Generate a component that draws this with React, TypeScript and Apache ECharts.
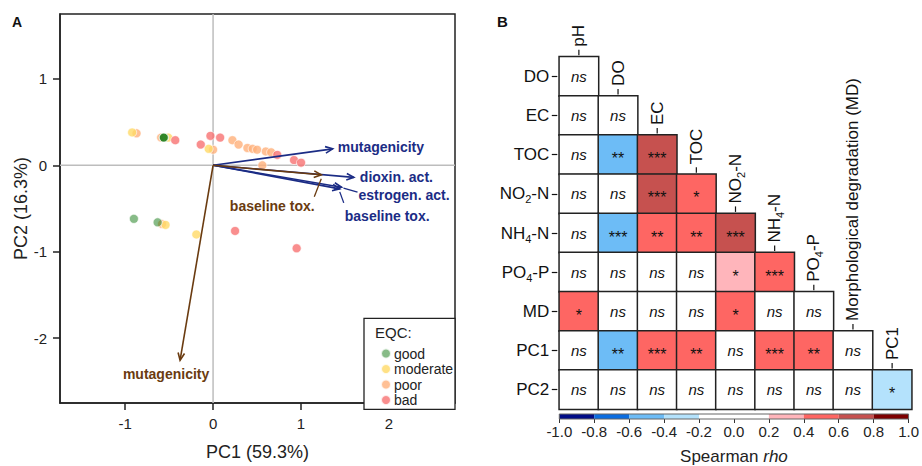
import React, { useEffect, useRef } from 'react';
import * as echarts from 'echarts';

const FONT = '"Liberation Sans", Arial, Helvetica, sans-serif';

// ---------- Panel A: PCA biplot ----------
const pc1Ticks = [-1, 0, 1, 2];
const pc2Ticks = [-2, -1, 0, 1];
const eqcClasses = ['good', 'moderate', 'poor', 'bad'];
const goodPts = [[-0.56, 0.32], [-0.56, 0.32], [-0.56, 0.32], [-0.9, -0.62], [-0.63, -0.66]];
const moderatePts = [[-0.92, 0.38], [-0.51, 0.32], [-0.05, 0.19], [-0.54, -0.69], [-0.19, -0.8]];
const poorPts = [
  [-0.87, 0.37], [-0.59, 0.32], [0.0, 0.18], [0.22, 0.29], [0.29, 0.24], [0.39, 0.2],
  [0.45, 0.19], [0.5, 0.18], [0.6, 0.16], [0.66, 0.15], [0.56, 0.0], [-0.58, -0.68],
];
const badPts = [
  [-0.43, 0.29], [-0.14, 0.24], [-0.03, 0.34], [0.08, 0.32], [0.73, 0.12], [0.92, 0.06],
  [1.0, 0.03], [0.25, -0.76], [0.95, -0.96],
];
const blueNames = ['mutagenicity', 'dioxin. act.', 'estrogen. act.', 'baseline tox.'];
const blueLoadings = [[1.36, 0.19], [1.6, -0.14], [1.46, -0.254], [1.44, -0.273]];
const brownNames = ['baseline tox.', 'mutagenicity'];
const brownLoadings = [[1.23, -0.11], [-0.375, -2.255]];

// ---------- Panel B: Spearman correlation heatmap ----------
const rowNames = ['DO', 'EC', 'TOC', 'NO_2-N', 'NH_4-N', 'PO_4-P', 'MD', 'PC1', 'PC2'];
const colNames = ['pH', 'DO', 'EC', 'TOC', 'NO_2-N', 'NH_4-N', 'PO_4-P', 'Morphological degradation (MD)', 'PC1'];
const rhoRows = [
  [0.05],
  [0.1, -0.1],
  [0.0, -0.5, 0.7],
  [0.1, -0.15, 0.68, 0.45],
  [0.05, -0.55, 0.55, 0.5, 0.65],
  [0.1, -0.1, 0.15, 0.1, 0.3, 0.55],
  [0.45, -0.05, 0.15, 0.1, 0.45, 0.15, 0.1],
  [0.1, -0.5, 0.55, 0.5, 0.15, 0.55, 0.5, 0.15],
  [0.05, 0.1, -0.1, 0.0, -0.05, 0.1, -0.1, 0.05, -0.3],
];
const sigRows = [
  ['ns'],
  ['ns', 'ns'],
  ['ns', '**', '***'],
  ['ns', 'ns', '***', '*'],
  ['ns', '***', '**', '**', '***'],
  ['ns', 'ns', 'ns', 'ns', '*', '***'],
  ['*', 'ns', 'ns', 'ns', '*', 'ns', 'ns'],
  ['ns', '**', '***', '**', 'ns', '***', '**', 'ns'],
  ['ns', 'ns', 'ns', 'ns', 'ns', 'ns', 'ns', 'ns', '*'],
];
const rhoBreaks = [-1, -0.8, -0.6, -0.4, -0.2, 0.2, 0.4, 0.6, 0.8, 1];
const rhoColors = ['#000c86', '#0b6de0', '#6dbcf6', '#b4e2fc', '#ffffff', '#ffb5bb', '#fe6663', '#c6514f', '#7d0000'];

// ---------- styles ----------
const NAVY = '#1b2c85';
const BROWN = '#6a3b10';
const classColors: Record<string, string> = {
  good: 'rgba(25,125,25,0.65)',
  moderate: '#ffd966',
  poor: '#ffb07a',
  bad: '#f77272',
};
const blueLayout = [
  { dx: 5, dy: -2, align: 'left' },
  { dx: 6, dy: 0, align: 'left' },
  { dx: 17, dy: 8, align: 'left', leader: [2, 1, 16, 5] },
  { dx: 5, dy: 27, align: 'left', leader: [0, 3, 4, 14] },
];
const brownLayout = [
  { dx: -49, dy: 31, align: 'center', leader: [0, 4, -7, 22] },
  { dx: -14, dy: 14, align: 'center' },
];

const sub = (s: string) =>
  s
    .split(/_(\d)/)
    .map((p, i) => (i % 2 ? `{s|${p}}` : p ? `{a|${p}}` : ''))
    .join('');

const labelRich = {
  a: { fontSize: 17, lineHeight: 22, color: '#111', fontFamily: FONT },
  s: { fontSize: 11, lineHeight: 11, verticalAlign: 'bottom', color: '#111', fontFamily: FONT },
};

function arrowRenderer(color: string, names: string[], layout: any[]) {
  return (params: any, api: any) => {
    const o = api.coord([0, 0]);
    const t = api.coord([api.value(0), api.value(1)]);
    const L = layout[params.dataIndex];
    const a = Math.atan2(t[1] - o[1], t[0] - o[0]);
    const hl = 8;
    const ha = 0.42;
    const children: any[] = [
      { type: 'line', shape: { x1: o[0], y1: o[1], x2: t[0], y2: t[1] }, style: { stroke: color, lineWidth: 1.6 } },
      {
        type: 'polyline',
        shape: {
          points: [
            [t[0] - hl * Math.cos(a - ha), t[1] - hl * Math.sin(a - ha)],
            [t[0], t[1]],
            [t[0] - hl * Math.cos(a + ha), t[1] - hl * Math.sin(a + ha)],
          ],
        },
        style: { stroke: color, lineWidth: 1.6, fill: 'none' },
      },
      {
        type: 'text',
        x: t[0] + L.dx,
        y: t[1] + L.dy,
        style: {
          text: names[params.dataIndex],
          fill: color,
          fontSize: 14,
          fontWeight: 'bold',
          fontFamily: FONT,
          align: L.align,
          verticalAlign: 'middle',
        },
      },
    ];
    if (L.leader) {
      children.push({
        type: 'line',
        shape: { x1: t[0] + L.leader[0], y1: t[1] + L.leader[1], x2: t[0] + L.leader[2], y2: t[1] + L.leader[3] },
        style: { stroke: color, lineWidth: 1.3 },
      });
    }
    return { type: 'group', children };
  };
}

function buildOption() {
  const heatData: any[] = [];
  rhoRows.forEach((row, r) =>
    row.forEach((v, c) => {
      const sig = sigRows[r][c];
      heatData.push({
        value: [c, r, v],
        label:
          sig === 'ns'
            ? { fontStyle: 'italic', fontSize: 15, offset: [0, 0] }
            : { fontSize: 16, offset: [0, 4] },
      });
    })
  );

  const pointSeries = (name: string, data: number[][]) => ({
    type: 'scatter',
    name,
    xAxisIndex: 0,
    yAxisIndex: 0,
    data,
    symbolSize: 9,
    z: 3,
    itemStyle: { color: classColors[name], borderColor: '#ffffff', borderWidth: 0.8 },
  });

  const axisLineStyle = { color: '#222', width: 1.5 };

  return {
    animation: false,
    backgroundColor: '#ffffff',
    textStyle: { fontFamily: FONT },
    grid: [
      { left: 60, top: 14, width: 395, height: 395, show: true, borderColor: '#222', borderWidth: 1.5 },
      { left: 559.3, top: 56.7, width: 352.4, height: 352.6 },
      { left: 559.3, top: 414, width: 352.4, height: 10.7 },
    ],
    xAxis: [
      {
        type: 'value',
        gridIndex: 0,
        min: -1.74,
        max: 2.75,
        axisLine: { show: true, onZero: false, lineStyle: axisLineStyle },
        axisTick: { show: true, length: 7, customValues: pc1Ticks, lineStyle: axisLineStyle },
        axisLabel: { customValues: pc1Ticks, fontSize: 15, margin: 13, color: '#222', fontFamily: FONT },
        splitLine: { show: false },
        name: 'PC1 (59.3%)',
        nameLocation: 'middle',
        nameGap: 40,
        nameTextStyle: { fontSize: 18, color: '#222', fontFamily: FONT },
      },
      {
        type: 'category',
        gridIndex: 1,
        data: colNames,
        show: false,
      },
      {
        type: 'value',
        gridIndex: 2,
        min: -1,
        max: 1,
        interval: 0.2,
        axisLine: { show: false },
        axisTick: { show: true, length: 4, lineStyle: { color: '#333', width: 1 } },
        axisLabel: {
          fontSize: 15,
          margin: 5,
          color: '#222',
          fontFamily: FONT,
          formatter: (v: number) => (Math.abs(v) < 1e-9 ? '0.0' : v.toFixed(1)),
        },
        splitLine: { show: false },
        name: '{n|Spearman }{i|rho}',
        nameLocation: 'middle',
        nameGap: 29,
        nameTextStyle: {
          rich: {
            n: { fontSize: 17, color: '#222', fontFamily: FONT },
            i: { fontSize: 17, color: '#222', fontStyle: 'italic', fontFamily: FONT },
          },
        },
      },
    ],
    yAxis: [
      {
        type: 'value',
        gridIndex: 0,
        min: -2.75,
        max: 1.75,
        axisLine: { show: true, onZero: false, lineStyle: axisLineStyle },
        axisTick: { show: true, length: 7, customValues: pc2Ticks, lineStyle: axisLineStyle },
        axisLabel: { customValues: pc2Ticks, fontSize: 15, margin: 13, color: '#222', fontFamily: FONT },
        splitLine: { show: false },
        name: 'PC2 (16.3%)',
        nameLocation: 'middle',
        nameGap: 30,
        nameTextStyle: { fontSize: 18, color: '#222', fontFamily: FONT },
      },
      {
        type: 'category',
        gridIndex: 1,
        data: rowNames,
        inverse: true,
        offset: 2,
        axisLine: { show: false },
        axisTick: { show: true, alignWithLabel: true, length: 5.5, lineStyle: { color: '#111', width: 1.2 } },
        axisLabel: { margin: 8, formatter: (v: string) => sub(v), rich: labelRich },
        splitLine: { show: false },
      },
      {
        type: 'value',
        gridIndex: 2,
        min: 0,
        max: 1,
        show: false,
      },
    ],
    visualMap: {
      type: 'piecewise',
      show: false,
      seriesIndex: 7,
      dimension: 2,
      pieces: rhoColors.map((c, i) =>
        i === rhoColors.length - 1
          ? { gte: rhoBreaks[i], lte: rhoBreaks[i + 1], color: c }
          : { gte: rhoBreaks[i], lt: rhoBreaks[i + 1], color: c }
      ),
    },
    legend: {
      data: eqcClasses,
      orient: 'vertical',
      left: 375,
      top: 341.5,
      itemWidth: 10,
      itemHeight: 10,
      itemGap: 1.5,
      icon: 'circle',
      z: 10,
      selectedMode: false,
      textStyle: { fontSize: 14, color: '#222', fontFamily: FONT, padding: [0, 0, 0, -2] },
    },
    graphic: [
      { type: 'text', left: 12, top: 15, style: { text: 'A', fontSize: 14, fontWeight: 'bold', fill: '#111', fontFamily: FONT } },
      { type: 'text', left: 497, top: 14, style: { text: 'B', fontSize: 15, fontWeight: 'bold', fill: '#111', fontFamily: FONT } },
      {
        type: 'rect',
        z: 8,
        shape: { x: 364, y: 318.3, width: 91, height: 91 },
        style: { fill: '#ffffff', stroke: '#222', lineWidth: 1.3 },
      },
      {
        type: 'text',
        z: 9,
        x: 375,
        y: 332,
        style: { text: 'EQC:', fontSize: 15, fill: '#222', fontFamily: FONT, verticalAlign: 'middle' },
      },
    ],
    series: [
      {
        type: 'custom',
        xAxisIndex: 0,
        yAxisIndex: 0,
        z: 1,
        silent: true,
        data: [[0, 0]],
        renderItem: (params: any, api: any) => {
          const p = api.coord([api.value(0), api.value(1)]);
          const cs = params.coordSys;
          const st = { stroke: '#bdbdbd', lineWidth: 1.5 };
          return {
            type: 'group',
            children: [
              { type: 'line', shape: { x1: p[0], y1: cs.y, x2: p[0], y2: cs.y + cs.height }, style: st },
              { type: 'line', shape: { x1: cs.x, y1: p[1], x2: cs.x + cs.width, y2: p[1] }, style: st },
            ],
          };
        },
      },
      pointSeries('poor', poorPts),
      pointSeries('moderate', moderatePts),
      pointSeries('bad', badPts),
      pointSeries('good', goodPts),
      {
        type: 'custom',
        xAxisIndex: 0,
        yAxisIndex: 0,
        z: 4,
        silent: true,
        clip: false,
        data: blueLoadings,
        encode: { x: 0, y: 1 },
        renderItem: arrowRenderer(NAVY, blueNames, blueLayout),
      },
      {
        type: 'custom',
        xAxisIndex: 0,
        yAxisIndex: 0,
        z: 5,
        silent: true,
        clip: false,
        data: brownLoadings,
        encode: { x: 0, y: 1 },
        renderItem: arrowRenderer(BROWN, brownNames, brownLayout),
      },
      {
        type: 'heatmap',
        xAxisIndex: 1,
        yAxisIndex: 1,
        data: heatData,
        itemStyle: { borderColor: '#222', borderWidth: 1.5 },
        label: {
          show: true,
          color: '#111',
          fontFamily: FONT,
          formatter: (p: any) => sigRows[p.value[1]][p.value[0]],
        },
        emphasis: { disabled: true },
      },
      {
        type: 'custom',
        xAxisIndex: 1,
        yAxisIndex: 1,
        silent: true,
        clip: false,
        data: colNames.map((_, j) => [j, j]),
        encode: { x: 0, y: 1 },
        renderItem: (params: any, api: any) => {
          const j = api.value(0);
          const c = api.coord([j, api.value(1)]);
          const s = api.size([1, 1]);
          const top = c[1] - s[1] / 2;
          return {
            type: 'group',
            children: [
              { type: 'line', shape: { x1: c[0], y1: top - 1.5, x2: c[0], y2: top - 7 }, style: { stroke: '#111', lineWidth: 1.2 } },
              {
                type: 'text',
                x: c[0],
                y: top - 10,
                rotation: Math.PI / 2,
                style: {
                  text: sub(colNames[j]),
                  rich: labelRich,
                  align: 'left',
                  verticalAlign: 'middle',
                  fill: '#111',
                },
              },
            ],
          };
        },
      },
      {
        type: 'custom',
        xAxisIndex: 2,
        yAxisIndex: 2,
        silent: true,
        data: rhoColors.map((_, i) => [rhoBreaks[i], rhoBreaks[i + 1], i]),
        encode: { x: [0, 1] },
        renderItem: (params: any, api: any) => {
          const p0 = api.coord([api.value(0), 0]);
          const p1 = api.coord([api.value(1), 1]);
          return {
            type: 'rect',
            shape: { x: p0[0], y: p1[1], width: p1[0] - p0[0], height: p0[1] - p1[1] },
            style: { fill: rhoColors[api.value(2)] },
          };
        },
      },
      {
        type: 'custom',
        xAxisIndex: 2,
        yAxisIndex: 2,
        silent: true,
        z: 3,
        data: [[rhoBreaks[0], rhoBreaks[rhoBreaks.length - 1]]],
        encode: { x: [0, 1] },
        renderItem: (params: any, api: any) => {
          const p0 = api.coord([api.value(0), 0]);
          const p1 = api.coord([api.value(1), 1]);
          return {
            type: 'rect',
            shape: { x: p0[0], y: p1[1], width: p1[0] - p0[0], height: p0[1] - p1[1] },
            style: { fill: 'none', stroke: '#666', lineWidth: 1 },
          };
        },
      },
    ],
  };
}

export default function App() {
  const ref = useRef<HTMLDivElement>(null);
  useEffect(() => {
    document.body.style.margin = '0';
    const chart = echarts.init(ref.current as HTMLDivElement, null, { renderer: 'svg' });
    chart.setOption(buildOption() as any);
    return () => chart.dispose();
  }, []);
  return (
    <div
      ref={ref}
      style={{ position: 'absolute', left: 0, top: 0, width: 922, height: 466, background: '#ffffff' }}
    />
  );
}
